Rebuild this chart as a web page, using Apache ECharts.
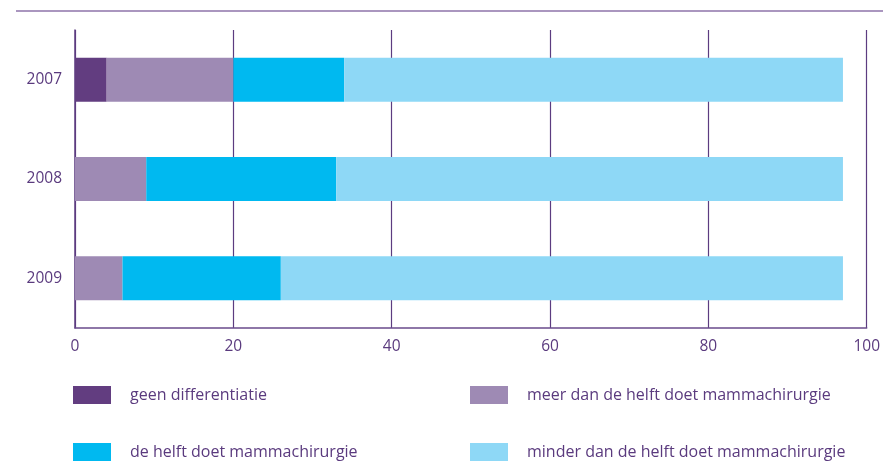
<!DOCTYPE html>
<html>
<head>
<meta charset="utf-8">
<script src="https://cdn.jsdelivr.net/npm/echarts@6/dist/echarts.min.js"></script>
<style>
  html, body { margin: 0; padding: 0; background: #fff; }
  #chart { width: 883px; height: 465px; }
</style>
</head>
<body>
<div id="chart"></div>
<script>
var years = ['2007', '2008', '2009'];
var geenDiff = [4, 0, 0];
var meerDanHelft = [16, 9, 6];
var helft = [14, 24, 20];
var minderDanHelft = [63, 64, 71];
var xTicks = [0, 20, 40, 60, 80, 100];

var names = [
    'geen differentiatie',
    'meer dan de helft doet mammachirurgie',
    'de helft doet mammachirurgie',
    'minder dan de helft doet mammachirurgie'
];
var colors = ['#623d80', '#9e8ab4', '#00b9f0', '#8ed8f6'];
var txt = '#5a3a7e';
var font = 'Open Sans';

var chart = echarts.init(document.getElementById('chart'));

function leg(i, left, top) {
    return {
        data: [names[i]],
        left: left,
        top: top,
        padding: 0,
        itemWidth: 38,
        itemHeight: 18,
        itemGap: 0,
        icon: 'rect',
        selectedMode: false,
        textStyle: { color: txt, fontSize: 16, fontFamily: font, padding: [0, 0, 0, 14] }
    };
}

var option = {
    animation: false,
    color: colors,
    grid: { left: 75, right: 14, top: 30, bottom: 137 },
    graphic: [{
        type: 'line',
        shape: { x1: 16, y1: 11, x2: 883, y2: 11 },
        style: { stroke: '#8e73aa', lineWidth: 1.5 }
    }],
    legend: [
        leg(0, 73, 386),
        leg(1, 470, 386),
        leg(2, 73, 443),
        leg(3, 470, 443)
    ],
    xAxis: {
        type: 'value',
        min: xTicks[0],
        max: xTicks[xTicks.length - 1],
        interval: 20,
        axisLine: { show: true, lineStyle: { color: '#6a4b8c', width: 1.5 } },
        axisTick: { show: false },
        splitLine: { show: true, lineStyle: { color: '#5c3c80', width: 1.2 } },
        axisLabel: { color: txt, fontSize: 15.5, fontFamily: font, margin: 11 }
    },
    yAxis: {
        type: 'category',
        data: years,
        inverse: true,
        axisLine: { show: true, lineStyle: { color: '#5c3c80', width: 1.5 } },
        axisTick: { show: false },
        axisLabel: { color: txt, fontSize: 15.5, fontFamily: font, margin: 13 }
    },
    series: [
        { name: names[0], type: 'bar', stack: 't', barWidth: 44, data: geenDiff },
        { name: names[1], type: 'bar', stack: 't', barWidth: 44, data: meerDanHelft },
        { name: names[2], type: 'bar', stack: 't', barWidth: 44, data: helft },
        { name: names[3], type: 'bar', stack: 't', barWidth: 44, data: minderDanHelft }
    ]
};

chart.setOption(option);
</script>
</body>
</html>
